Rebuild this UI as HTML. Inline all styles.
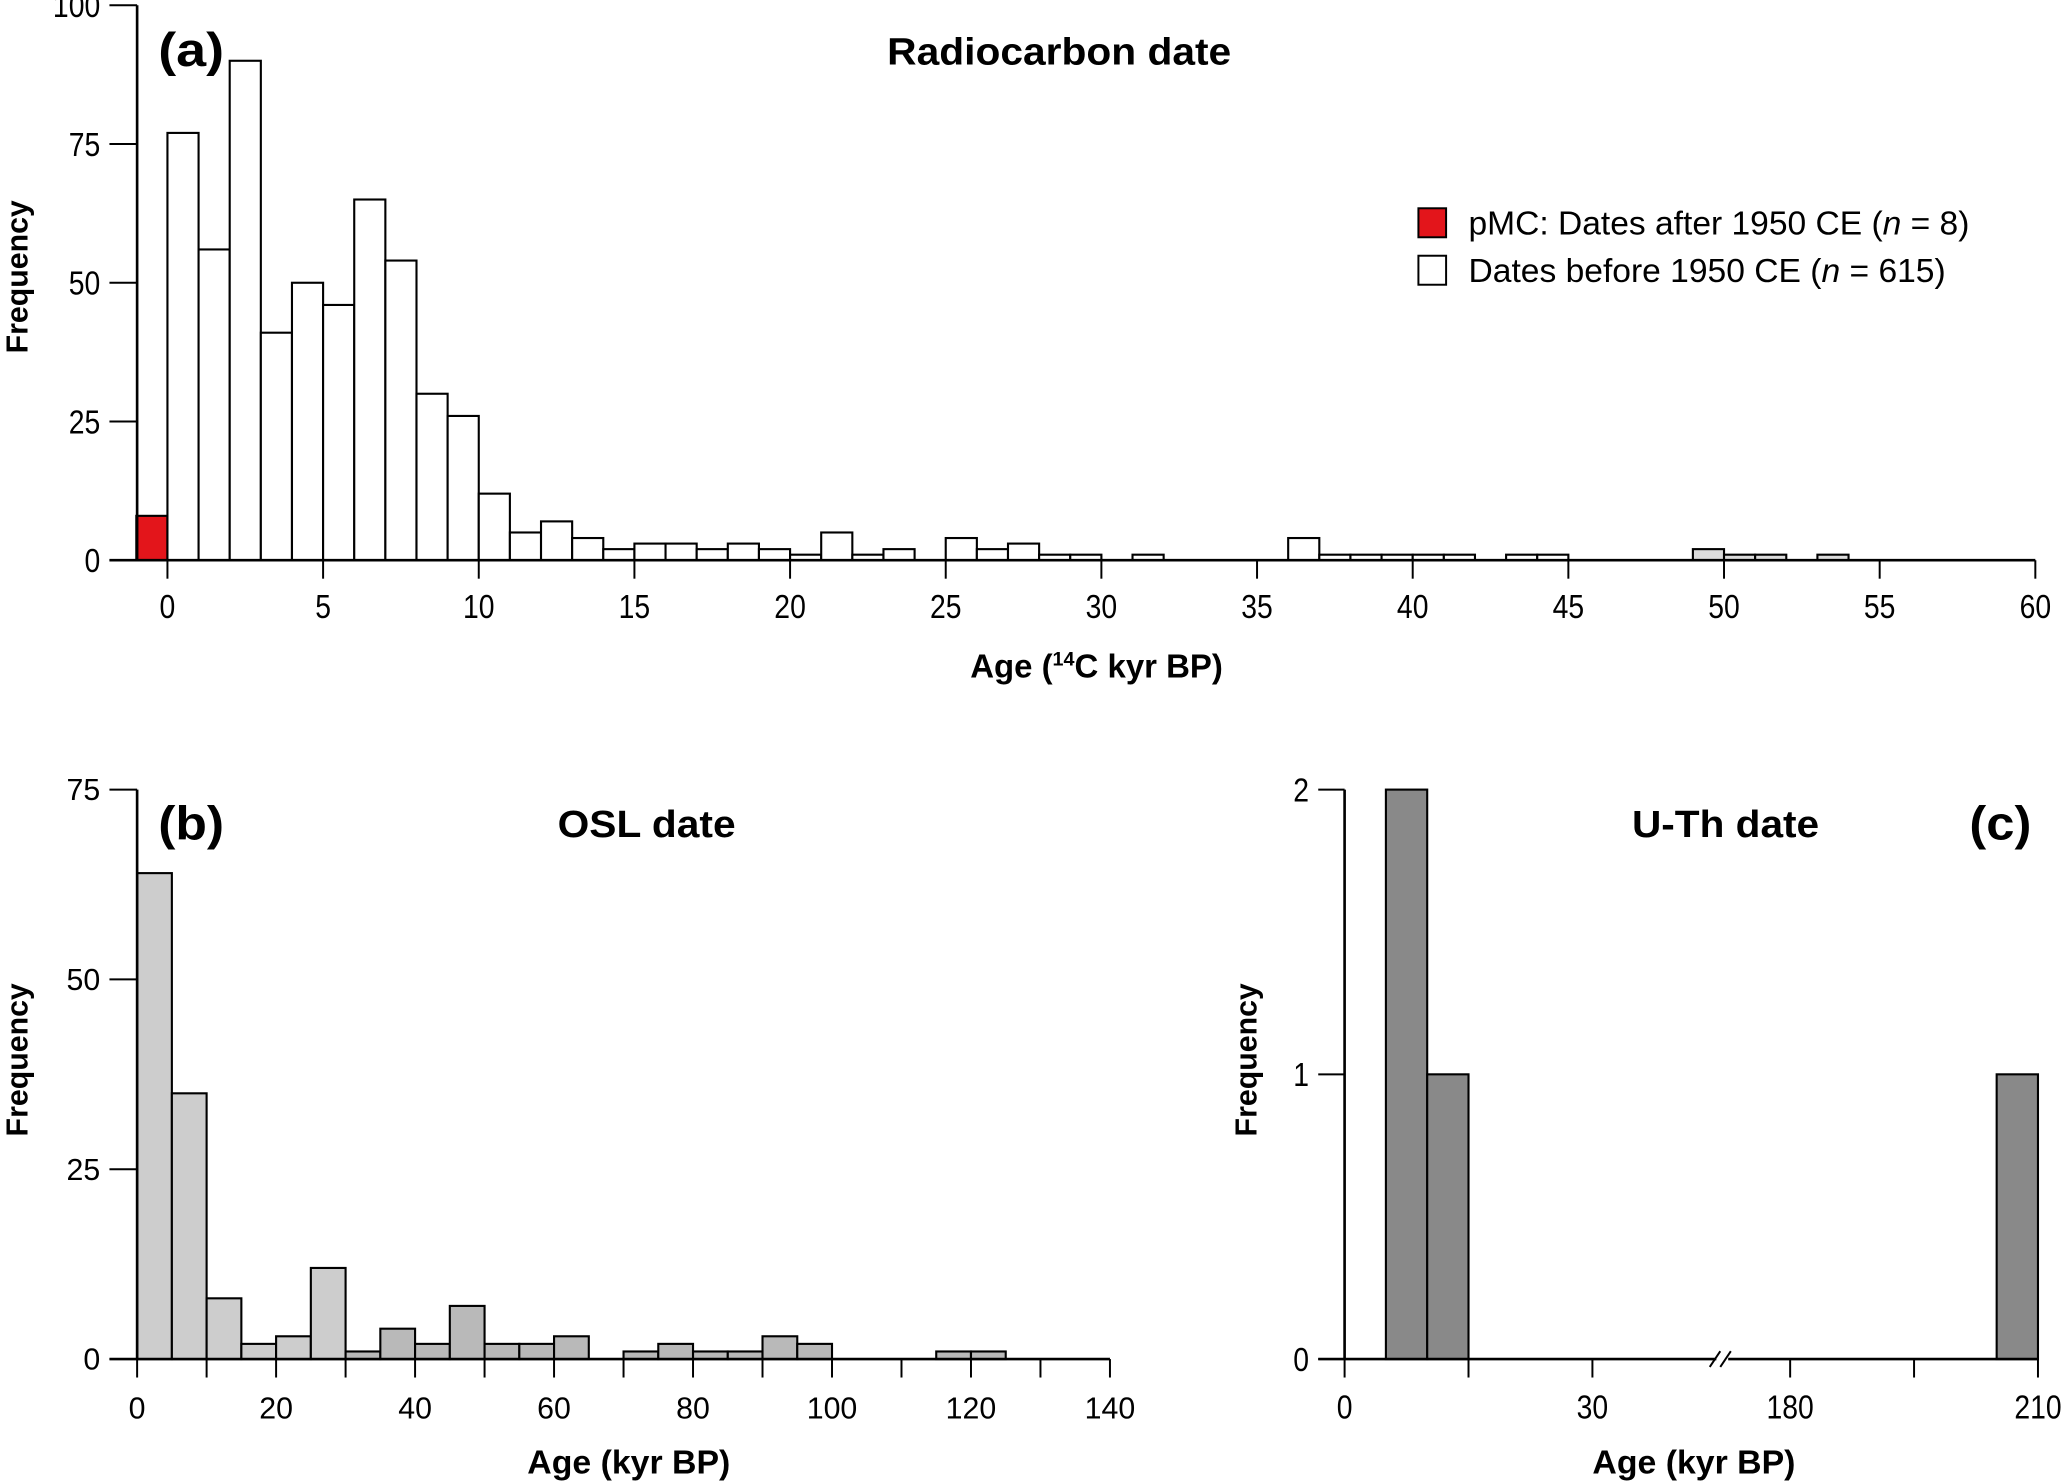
<!DOCTYPE html>
<html><head><meta charset="utf-8"><style>
html,body{margin:0;padding:0;background:#fff;}
svg{display:block;}
.n{font-family:"Liberation Sans Narrow","Liberation Sans",sans-serif;}
.s{font-family:"Liberation Sans",sans-serif;}
</style></head><body>
<svg id="fig" width="2067" height="1481" viewBox="0 0 1568 1123.5" xmlns="http://www.w3.org/2000/svg">
<g id="pa"></g>
<g id="pb"></g>
<g id="pc"></g>
<text class="n" x="120" y="50" font-size="36" font-weight="bold" textLength="50" lengthAdjust="spacingAndGlyphs">(a)</text>
<text class="n" x="673" y="49" font-size="29" font-weight="bold" textLength="261" lengthAdjust="spacingAndGlyphs">Radiocarbon date</text>
<rect x="1076" y="158" width="21" height="22" fill="#e3151b" stroke="#000" stroke-width="1.5"/>
<text class="n" x="1114" y="178" font-size="25" textLength="380" lengthAdjust="spacingAndGlyphs">pMC: Dates after 1950 CE (<tspan font-style="italic">n</tspan> = 8)</text>
<rect x="1076" y="194" width="21" height="22" fill="#fff" stroke="#000" stroke-width="1.5"/>
<text class="n" x="1114" y="214" font-size="25" textLength="362" lengthAdjust="spacingAndGlyphs">Dates before 1950 CE (<tspan font-style="italic">n</tspan> = 615)</text>
<text class="n" x="736" y="514" font-size="25" font-weight="bold">Age (<tspan font-size="15" dy="-9">14</tspan><tspan dy="9">C kyr BP)</tspan></text>
<text class="s" transform="translate(21,210) rotate(-90)" font-size="23" font-weight="bold" text-anchor="middle">Frequency</text>
<text class="s" x="120" y="637" font-size="36" font-weight="bold" textLength="50" lengthAdjust="spacingAndGlyphs">(b)</text>
<text class="n" x="423" y="635" font-size="29" font-weight="bold" textLength="135" lengthAdjust="spacingAndGlyphs">OSL date</text>
<text class="n" x="400" y="1118" font-size="25" font-weight="bold" textLength="154" lengthAdjust="spacingAndGlyphs">Age (kyr BP)</text>
<text class="s" transform="translate(21,804) rotate(-90)" font-size="23" font-weight="bold" text-anchor="middle">Frequency</text>
<text class="n" x="1494" y="637" font-size="36" font-weight="bold" textLength="47" lengthAdjust="spacingAndGlyphs">(c)</text>
<text class="n" x="1238" y="635" font-size="29" font-weight="bold" textLength="142" lengthAdjust="spacingAndGlyphs">U-Th date</text>
<text class="n" x="1208" y="1118" font-size="25" font-weight="bold" textLength="154" lengthAdjust="spacingAndGlyphs">Age (kyr BP)</text>
<text class="s" transform="translate(953,804) rotate(-90)" font-size="23" font-weight="bold" text-anchor="middle">Frequency</text>
</svg>
<script>
// Panel a data (1-kyr bins starting at 0)
const aCounts = [77,56,90,41,50,46,65,54,30,26,12,5,7,4,2,3,3,2,3,2,1,5,1,2,0,4,2,3,1,1,0,1,0,0,0,0,4,1,1,1,1,1,0,1,1,0,0,0,0,2,1,1,0,1];
const aGrayFrom = 49;
const aPmc = 8;
const aXTicks = [0,5,10,15,20,25,30,35,40,45,50,55,60];
const aYTicks = [0,25,50,75,100];
// Panel b data (5-kyr bins)
const bCounts = [64,35,8,2,3,12,1,4,2,7,2,2,3,0,1,2,1,1,3,2,0,0,0,1,1];
const bDarkFrom = 30;
const bXTicks = [0,10,20,30,40,50,60,70,80,90,100,110,120,130,140];
const bYTicks = [0,25,50,75];
// Panel c data
const cBinStart = [5,10,205];
const cCounts = [2,1,1];
const cBinWidth = 5;
const cXTicks = [0,15,30,180,195,210];
const cYTicks = [0,1,2];

const NS='http://www.w3.org/2000/svg';
function mk(parent,tag,attrs){const e=document.createElementNS(NS,tag);for(const k in attrs)e.setAttribute(k,attrs[k]);parent.appendChild(e);return e;}
function narrow(t){const w=t.getComputedTextLength();t.setAttribute('textLength',w*0.86);t.setAttribute('lengthAdjust','spacingAndGlyphs');}

// ---------- Panel a ----------
(function(){
const g=document.getElementById('pa');
const xa=v=>127+v*(1544-127)/60, ya=v=>425-v*(425-4)/100;
let r=mk(g,'rect',{x:xa(-1),y:ya(aPmc),width:xa(0)-xa(-1),height:ya(0)-ya(aPmc),fill:'#e3151b',stroke:'#000','stroke-width':1.6});


aCounts.forEach((c,i)=>{ if(!c) return;
 const b=mk(g,'rect',{x:xa(i),y:ya(c),width:xa(i+1)-xa(i),height:ya(0)-ya(c),fill:i>=aGrayFrom?'#dcdcdc':'#fff',stroke:'#000','stroke-width':1.6});
 
 
});
let ax=mk(g,'line',{x1:83,x2:xa(60),y1:ya(0),y2:ya(0),stroke:'#000','stroke-width':2});


let ay=mk(g,'line',{x1:104,x2:104,y1:ya(0),y2:ya(100),stroke:'#000','stroke-width':2});


aXTicks.forEach(v=>{
 mk(g,'line',{x1:xa(v),x2:xa(v),y1:ya(0),y2:ya(0)+14,stroke:'#000','stroke-width':1.5});
 const t=mk(g,'text',{x:xa(v),y:469,'font-size':25,'text-anchor':'middle',class:'n'});t.textContent=v;
 
 
 narrow(t);
});
aYTicks.forEach(v=>{
 mk(g,'line',{x1:83,x2:104,y1:ya(v),y2:ya(v),stroke:'#000','stroke-width':1.5});
 const t=mk(g,'text',{x:76,y:ya(v)+9,'font-size':25,'text-anchor':'end',class:'n'});t.textContent=v;
 
 
 narrow(t);
});
})();

// ---------- Panel b ----------
(function(){
const g=document.getElementById('pb');
const xb=v=>104+v*(842-104)/140, yb=v=>1031-v*(1031-599)/75;
bCounts.forEach((c,i)=>{ if(!c) return;
 const b=mk(g,'rect',{x:xb(i*5),y:yb(c),width:xb(5)-xb(0),height:yb(0)-yb(c),fill:i*5>=bDarkFrom?'#b9b9b9':'#cdcdcd',stroke:'#000','stroke-width':1.6});
 
 
});
let ax=mk(g,'line',{x1:83,x2:xb(140),y1:yb(0),y2:yb(0),stroke:'#000','stroke-width':2});


let ay=mk(g,'line',{x1:104,x2:104,y1:yb(0),y2:yb(75),stroke:'#000','stroke-width':2});


bXTicks.forEach(v=>{
 mk(g,'line',{x1:xb(v),x2:xb(v),y1:yb(0),y2:yb(0)+14,stroke:'#000','stroke-width':1.5});
 if(v%20===0){const t=mk(g,'text',{x:xb(v),y:1076,'font-size':23,'text-anchor':'middle',class:'s'});t.textContent=v;
 
 }
});
bYTicks.forEach(v=>{
 mk(g,'line',{x1:83,x2:104,y1:yb(v),y2:yb(v),stroke:'#000','stroke-width':1.5});
 const t=mk(g,'text',{x:76,y:yb(v)+8,'font-size':23,'text-anchor':'end',class:'s'});t.textContent=v;
 
 
});
})();

// ---------- Panel c ----------
(function(){
const g=document.getElementById('pc');
const k=188/30;
const xc=v=>v<=100?1020+v*k:1358+(v-180)*k, yc=v=>1031-v*(1031-599)/2;
cCounts.forEach((c,i)=>{
 const s=cBinStart[i];
 const b=mk(g,'rect',{x:xc(s),y:yc(c),width:xc(s+cBinWidth)-xc(s),height:yc(0)-yc(c),fill:'#898989',stroke:'#000','stroke-width':1.6});
 
 
});
let ax1=mk(g,'line',{x1:1000,x2:1302,y1:yc(0),y2:yc(0),stroke:'#000','stroke-width':2});


let ax2=mk(g,'line',{x1:1311,x2:xc(210),y1:yc(0),y2:yc(0),stroke:'#000','stroke-width':2});


let br=mk(g,'path',{d:'M1297,1037 L1305,1025 M1305,1037 L1313,1025',stroke:'#000','stroke-width':1.5,fill:'none'});


let ay=mk(g,'line',{x1:1020,x2:1020,y1:yc(0),y2:yc(2),stroke:'#000','stroke-width':2});


cXTicks.forEach(v=>{
 mk(g,'line',{x1:xc(v),x2:xc(v),y1:yc(0),y2:yc(0)+14,stroke:'#000','stroke-width':1.5});
 if(v%30===0){const t=mk(g,'text',{x:xc(v),y:1076,'font-size':25,'text-anchor':'middle',class:'n'});t.textContent=v;
 
 
 narrow(t);}
});
cYTicks.forEach(v=>{
 mk(g,'line',{x1:1000,x2:1020,y1:yc(v),y2:yc(v),stroke:'#000','stroke-width':1.5});
 const t=mk(g,'text',{x:993,y:yc(v)+9,'font-size':25,'text-anchor':'end',class:'n'});t.textContent=v;
 
 
 narrow(t);
});
})();
</script>
</body></html>
